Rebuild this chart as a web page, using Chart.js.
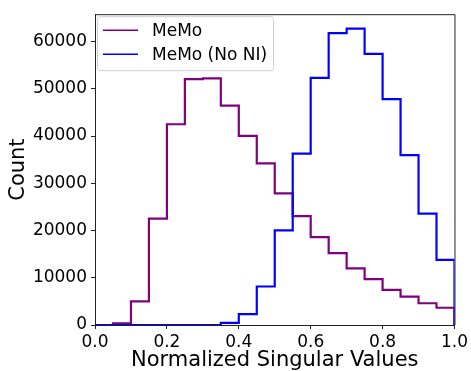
<!DOCTYPE html>
<html>
<head>
<meta charset="utf-8">
<script src="https://cdn.jsdelivr.net/npm/chart.js@4/dist/chart.umd.min.js"></script>
<style>
  html, body { margin: 0; padding: 0; background: #fff; }
  #wrap { width: 471px; height: 371px; position: relative; }
</style>
</head>
<body>
<div id="wrap"><canvas id="myChart"></canvas></div>
<script>
// bin edges of the histogram (0.05 wide)
const binEdges = [0.0, 0.05, 0.1, 0.15, 0.2, 0.25, 0.3, 0.35, 0.4, 0.45, 0.5,
                  0.55, 0.6, 0.65, 0.7, 0.75, 0.8, 0.85, 0.9, 0.95, 1.0];

const memoCounts = [0, 350, 5000, 22500, 42500, 52050, 52200, 46450, 40050, 34200,
                    27850, 23050, 18600, 15200, 12000, 9700, 7450, 6000, 4600, 3650];
const memoNoNiCounts = [0, 0, 0, 0, 0, 0, 0, 450, 2300, 8150,
                        20050, 36300, 52300, 61800, 62750, 57400, 47800, 35950, 23600, 13800];

const seriesLabels = ['MeMo', 'MeMo (No NI)'];
const seriesColors = ['#800080', '#0000ff'];
const xTickValues = [0.0, 0.2, 0.4, 0.6, 0.8, 1.0];
const yTickValues = [0, 10000, 20000, 30000, 40000, 50000, 60000];

const FONT = "'DejaVu Sans', sans-serif";

// step outline: each bin value held from its left edge, drop to 0 at the last edge
function stepPoints(counts) {
    const pts = counts.map((c, i) => ({ x: binEdges[i], y: c }));
    pts.push({ x: binEdges[binEdges.length - 1], y: 0 });
    return pts;
}

const frameAndLegend = {
    id: 'frameAndLegend',
    beforeDatasetsDraw(chart) {
        // top and right spines, under the lines
        const { ctx, chartArea: a } = chart;
        ctx.save();
        ctx.strokeStyle = '#222';
        ctx.lineWidth = 1;
        ctx.beginPath();
        ctx.moveTo(a.left, a.top + 0.5);
        ctx.lineTo(a.right + 0.5, a.top + 0.5);
        ctx.lineTo(a.right + 0.5, a.bottom);
        ctx.stroke();
        ctx.restore();
    },
    afterDraw(chart) {
        const { ctx, chartArea: a } = chart;
        ctx.save();
        // legend box inside upper left
        const bx = a.left + 2, by = a.top + 2, bw = 176, bh = 54;
        ctx.fillStyle = 'rgba(255,255,255,0.8)';
        ctx.strokeStyle = '#d0d0d0';
        ctx.lineWidth = 1;
        ctx.beginPath();
        ctx.roundRect(bx + 0.5, by + 0.5, bw, bh, 3);
        ctx.fill();
        ctx.stroke();

        ctx.font = '17px ' + FONT;
        ctx.textBaseline = 'middle';
        ctx.fillStyle = '#000';
        seriesLabels.forEach((lab, i) => {
            const y = by + 14 + i * 24;
            ctx.strokeStyle = seriesColors[i];
            ctx.lineWidth = 1.5;
            ctx.beginPath();
            ctx.moveTo(bx + 6, y);
            ctx.lineTo(bx + 41, y);
            ctx.stroke();
            ctx.fillText(lab, bx + 55, y + 1);
        });
        ctx.restore();
    }
};

const ctx = document.getElementById('myChart').getContext('2d');
new Chart(ctx, {
    type: 'line',
    data: {
        datasets: [
            {
                label: seriesLabels[0],
                data: stepPoints(memoCounts),
                borderColor: seriesColors[0],
                borderWidth: 2.2,
                stepped: true,
                pointRadius: 0,
                fill: false,
                order: 1
            },
            {
                label: seriesLabels[1],
                data: stepPoints(memoNoNiCounts),
                borderColor: seriesColors[1],
                borderWidth: 2.2,
                stepped: true,
                pointRadius: 0,
                fill: false,
                order: 0
            }
        ]
    },
    options: {
        responsive: true,
        maintainAspectRatio: false,
        animation: false,
        layout: { padding: { left: 0, right: 16, top: 5, bottom: 0 } },
        plugins: { legend: { display: false }, tooltip: { enabled: false } },
        scales: {
            x: {
                type: 'linear',
                min: 0,
                max: 1,
                afterBuildTicks: s => { s.ticks = xTickValues.map(v => ({ value: v })); },
                afterFit: s => { s.height = 46; },
                grid: { display: true, drawOnChartArea: false, drawTicks: true, tickLength: 4, color: '#222' },
                border: { display: true, color: '#222', width: 1 },
                ticks: {
                    color: '#000',
                    padding: 3,
                    maxRotation: 0,
                    font: { family: FONT, size: 17 },
                    callback: v => Number(v).toFixed(1)
                },
                title: {
                    display: true,
                    text: 'Normalized Singular Values',
                    color: '#000',
                    padding: { top: 0, bottom: -2 },
                    font: { family: FONT, size: 21 }
                }
            },
            y: {
                min: 0,
                max: 65800,
                afterBuildTicks: s => { s.ticks = yTickValues.map(v => ({ value: v })); },
                afterFit: s => { s.width = 95; },
                grid: { display: true, drawOnChartArea: false, drawTicks: true, tickLength: 4, color: '#222' },
                border: { display: true, color: '#222', width: 1 },
                ticks: {
                    color: '#000',
                    padding: 4,
                    font: { family: FONT, size: 17 },
                    callback: v => String(v)
                },
                title: {
                    display: true,
                    text: 'Count',
                    color: '#000',
                    padding: { top: 6, bottom: 0 },
                    font: { family: FONT, size: 21 }
                }
            }
        }
    },
    plugins: [frameAndLegend]
});
</script>
</body>
</html>
